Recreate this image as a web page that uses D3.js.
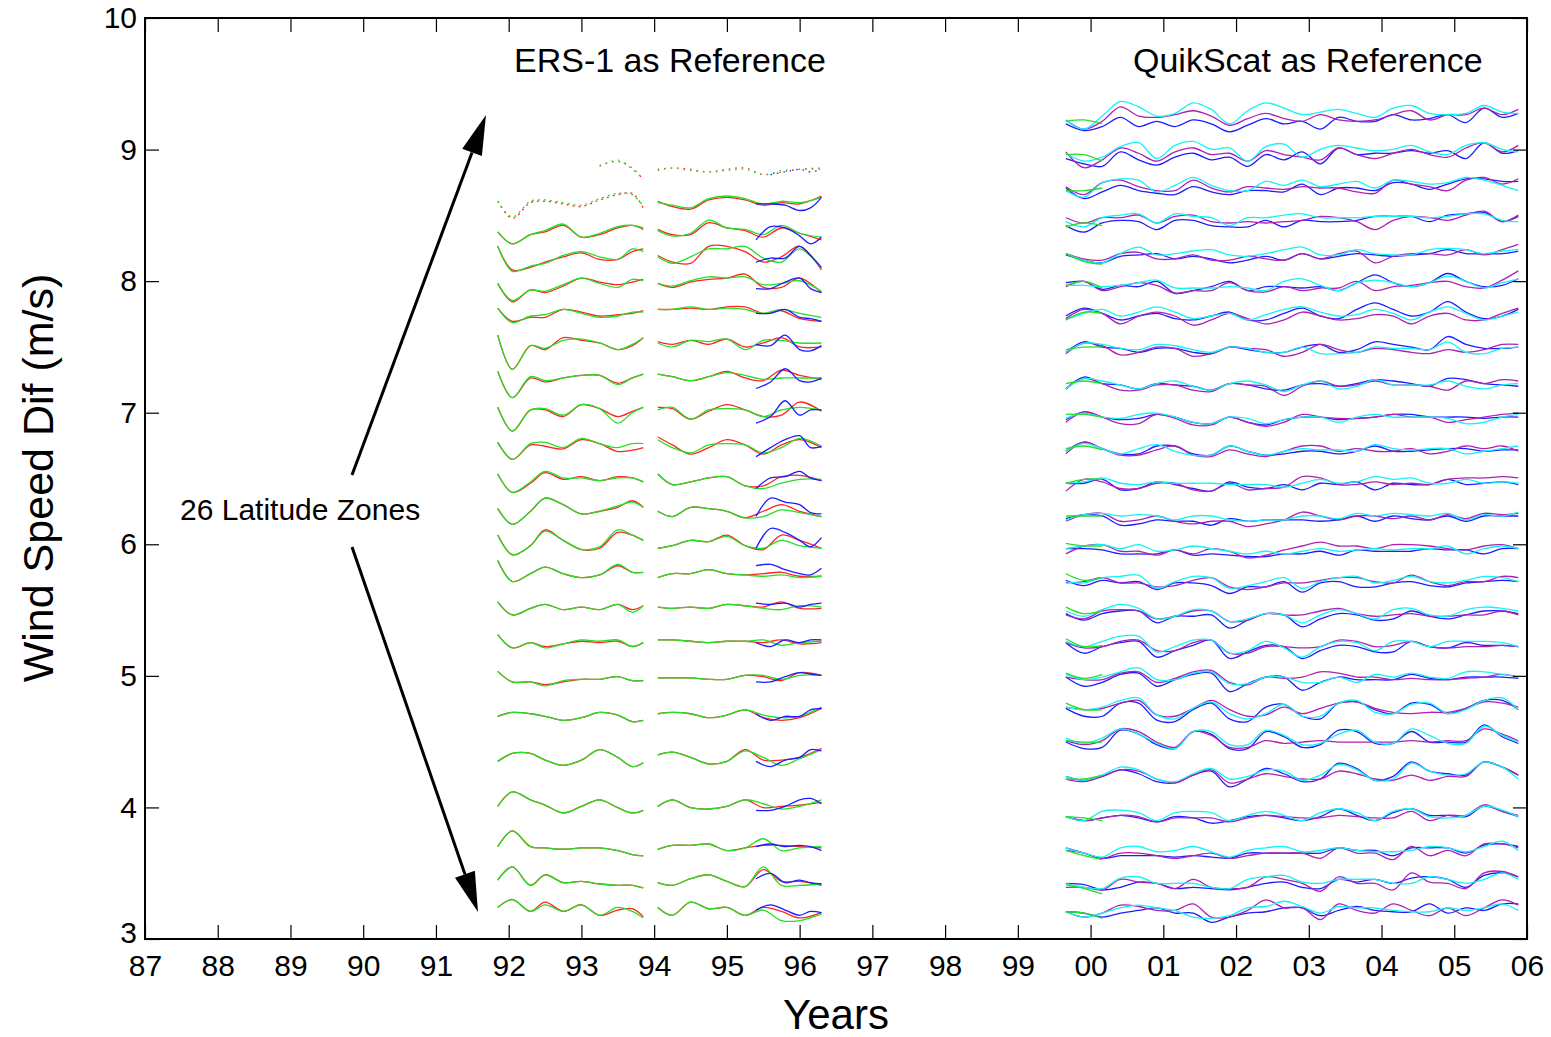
<!DOCTYPE html>
<html><head><meta charset="utf-8">
<script src="https://cdn.jsdelivr.net/npm/d3@7"></script>
<style>
body{margin:0;background:#fff;}
text{font-family:Arial,"Liberation Sans",sans-serif;fill:#000;}
</style>
</head><body>
<svg id="chart" width="1551" height="1037"></svg>
<script>
// ---------------- axis data ----------------
const xTickYears = [87,88,89,90,91,92,93,94,95,96,97,98,99,100,101,102,103,104,105,106];
const xTickLabels = ['87','88','89','90','91','92','93','94','95','96','97','98','99','00','01','02','03','04','05','06'];
const yTicks = [3,4,5,6,7,8,9,10];

// ---------------- ERS-1 as reference (left group) ----------------
// sample times (years since 1900); a data gap lies between 93.85 and 94.05
const ersTimes = [91.85,92.05,92.3,92.5,92.75,93.0,93.25,93.5,93.7,93.85,
                  94.05,94.25,94.5,94.75,95.0,95.25,95.5,95.75,96.0,96.3];
const ersGapAfter = 93.9;
const ersBlueTimes = [95.4,95.6,95.8,96.0,96.15,96.3];
// zone levels (m/s), top to bottom
const ersBase = [8.830,8.617,8.374,8.145,7.933,7.765,7.530,7.264,7.021,6.755,6.504,6.261,
                 6.010,5.767,5.523,5.273,4.984,4.702,4.360,4.018,3.692,3.448,3.220];
// deviations from zone level, in hundredths of m/s
const ersRed = [
 [null,null,null,null,null,null,5,8,3,-6, 2,3,2,0,2,3,-2,0,2,3],
 [-1,-14,-2,-1,-3,-5,0,4,5,-6, -1,-5,-7,0,2,0,-4,-2,-3,3],
 [0,-9,-2,0,5,-4,-2,3,5,2, 2,-2,-2,7,3,1,-4,3,-1,-6],
 [12,-6,-4,0,4,7,2,2,8,10, 5,0,-1,12,12,8,0,4,12,-6],
 [5,-9,0,-2,3,9,6,4,6,8, 5,2,6,8,9,12,2,2,9,-2],
 [3,-7,-4,-4,2,0,-3,-2,-1,1, 2,2,3,2,4,4,-1,1,-5,-7],
 [6,-20,-2,-5,4,2,0,-5,-2,4, 1,-1,2,-1,3,-3,0,4,-3,-3],
 [5,-15,0,-3,0,2,2,-4,0,3, 3,1,-2,1,5,0,-2,6,2,-1],
 [2,-16,0,0,-5,4,1,-5,-1,2, 2,1,-7,-1,4,0,-5,-4,6,-1],
 [2,-11,0,-1,-3,4,1,-5,-4,-2, 6,0,-7,-2,4,0,-7,0,4,-2],
 [3,-11,-4,4,-1,1,-2,1,0,-3, 3,-5,-3,0,1,-6,-6,1,2,-2],
 [1,-11,-1,9,4,-3,-1,2,7,2, -1,-5,2,1,-1,-6,-1,4,-1,-5],
 [6,-9,-2,10,2,-5,-4,8,6,2, -4,-2,2,1,6,-2,-5,6,2,-4],
 [11,-5,1,6,1,-2,0,7,2,2, -2,1,1,4,1,0,1,2,-1,-1],
 [4,-6,-1,2,-2,0,-2,2,-2,1, 0,-1,0,-1,2,1,0,4,-1,-1],
 [4,-6,-2,-5,-3,-1,-2,-1,-5,-2, 0,0,-1,-2,-1,-1,-2,0,-3,-2],
 [5,-3,-3,-5,-3,-1,-1,1,-2,-2, 0,0,0,-1,-1,2,1,-2,4,2],
 [-1,2,1,-1,-4,-2,2,0,-5,-4, 1,2,1,-2,0,4,-2,-4,-2,5],
 [-1,5,5,0,-4,0,8,2,-5,-2, 4,6,2,-3,-1,8,0,0,2,9],
 [-1,10,4,0,-6,-1,4,-2,-6,-4, -1,4,-2,-3,-1,4,-2,-1,0,2],
 [1,13,1,0,-1,0,0,-2,-5,-6, -1,2,2,3,-2,0,2,2,1,0],
 [0,10,-4,4,-2,-1,-3,-4,-4,-6, -2,-4,1,4,-1,-5,8,-1,-1,-4],
 [2,8,-1,6,-1,4,-4,0,1,-5, 2,-4,6,1,2,-4,2,-1,-6,-2]
];
const ersGreen = [
 [null,null,null,null,null,null,4,9,2,-5, 1,3,1,0,1,2,-2,1,2,2],
 [-1,-13,-1,0,-2,-4,1,5,4,-5, -2,-4,-6,1,3,1,-3,-1,-2,2],
 [0,-9,-2,1,6,-4,-1,4,5,3, 1,-3,-1,9,3,2,-2,5,-1,-4],
 [12,-7,-3,-1,5,8,4,2,10,8, 4,-1,4,10,10,12,3,0,10,-5],
 [5,-8,0,-1,4,9,5,2,8,7, 5,3,7,10,9,10,4,5,7,-1],
 [3,-8,-3,-2,2,-1,-4,-3,0,0, 2,2,4,2,3,2,-1,2,-1,-4],
 [6,-20,-2,-4,2,3,0,-5,-1,4, 0,-3,2,1,3,-5,2,2,0,0],
 [5,-15,1,-2,0,2,2,-5,0,3, 3,1,-2,1,4,2,-1,0,0,0],
 [2,-16,0,1,-4,4,1,-10,-2,2, 0,2,-7,0,1,0,-5,0,2,0],
 [2,-11,1,2,-2,5,1,-2,1,1, 4,-2,-6,0,1,0,-6,-2,5,-1],
 [3,-11,-3,5,0,0,-2,0,0,-3, 3,-5,-3,0,1,-6,-8,-4,-1,-1],
 [1,-11,-1,9,4,-3,-1,3,6,2, -1,-5,2,1,-1,-6,-5,0,-2,-5],
 [6,-9,-2,9,2,-5,-3,10,6,2, -4,-2,2,1,5,-2,-4,2,-2,-4],
 [11,-5,1,6,1,-2,0,8,2,2, -2,1,1,4,1,0,-1,0,-2,-1],
 [4,-6,-1,2,-2,0,-2,2,-4,1, 0,-1,0,-1,2,1,-1,-2,1,0],
 [4,-6,-2,-6,-3,0,-1,0,-5,-2, 0,0,-1,-2,-1,-1,0,-4,-2,-1],
 [5,-3,-3,-6,-2,-1,-1,1,-2,-2, 0,0,0,-1,-1,2,2,-1,2,2],
 [-1,2,1,-1,-4,-2,2,0,-5,-4, 1,2,1,-2,0,4,0,-2,-1,6],
 [-1,5,5,0,-4,0,8,2,-5,-2, 4,6,2,-3,-1,7,2,-4,1,8],
 [-1,10,4,0,-6,-1,4,-2,-6,-4, -1,4,-2,-3,-1,4,1,-3,-1,4],
 [1,13,1,0,-1,0,0,-2,-5,-6, -1,2,2,3,-2,0,7,-2,0,1],
 [0,10,-4,4,-2,-1,-3,-4,-4,-6, -2,-4,1,4,-1,-5,10,-4,-4,-3],
 [2,8,-1,4,-1,4,-4,2,-1,-6, 2,-4,6,1,2,-4,0,-8,-8,-3]
];
const ersBlue = [
 [null,-2,0,2,0,2],[-3,-3,-4,-8,-6,2],[-6,4,3,-3,-9,-4],[0,3,3,12,5,-4],[1,1,6,9,1,-2],
 [-1,-1,2,-4,-5,-7],[-1,-2,6,-5,-6,-2],[-8,-3,7,-2,-3,0],[-10,-5,7,-4,0,0],[-9,-2,4,7,-2,-1],
 [-8,0,1,5,0,-2],[-5,9,6,4,-2,-3],[-4,11,8,2,-3,4],[7,8,4,1,0,5],[3,2,3,0,2,3],
 [-2,-5,0,-2,0,0],[-3,-3,1,4,3,2],[1,-4,-1,-1,4,5],[-1,-5,0,2,8,7],[-4,-4,-1,4,5,1],
 [1,3,1,2,1,-2],[1,5,-2,0,-2,-3],[0,4,0,-4,-1,-2]
];

// ---------------- QuikScat as reference (right group) ----------------
const qsTimes = [99.66,99.91,100.16,100.41,100.66,100.91,101.16,101.41,101.66,101.91,102.16,102.41,102.66,
                 102.91,103.16,103.41,103.66,103.91,104.16,104.41,104.66,104.91,105.16,105.41,105.66,105.88];
const qsGreenTimes = [99.66,99.91,100.16];
const qsBase = [9.225,8.972,8.718,8.452,8.199,7.958,7.705,7.489,7.211,6.957,6.717,6.464,6.185,
                5.957,5.716,5.463,5.222,4.981,4.753,4.497,4.246,3.930,3.663,3.423,3.207];
const qsCyan = [
 [0,-7,3,14,10,3,5,13,8,-3,7,13,9,4,6,8,5,2,9,11,5,4,5,11,6,5],
 [0,-6,-3,5,8,-4,6,9,3,4,-6,5,7,-3,3,6,4,2,3,6,1,-1,6,8,3,1],
 [-3,-8,3,6,5,-4,1,7,1,-3,-3,4,1,5,0,2,4,-1,5,4,2,3,7,5,1,-3],
 [0,-4,3,5,6,-1,6,4,3,-3,3,3,5,6,3,3,3,4,4,4,3,4,6,6,1,0],
 [1,-4,-6,1,6,0,1,3,4,0,-1,1,4,6,0,0,4,1,0,0,4,5,4,1,3,4],
 [1,1,0,1,3,5,-1,-1,-1,0,-1,-3,4,6,1,-3,3,5,3,0,3,8,4,-1,3,6],
 [0,5,8,3,6,10,6,1,3,5,0,4,8,10,6,3,4,8,5,0,6,10,5,0,3,6],
 [-3,4,3,0,-1,3,2,-1,-3,1,0,-3,-3,1,-4,-4,-3,1,0,0,-1,5,-3,-4,0,1],
 [-3,5,3,0,-3,1,3,-1,-4,1,3,0,-5,0,3,-3,-1,4,0,0,0,3,-1,-3,0,1],
 [0,4,1,0,3,4,1,-3,-4,1,0,-4,-1,1,1,-3,1,3,1,1,1,0,-4,-3,1,3],
 [-1,5,1,-3,1,4,-1,-4,-4,3,-1,-4,-1,1,0,0,-1,4,1,0,1,1,-3,-1,1,3],
 [0,1,4,0,-1,1,0,0,0,-1,-1,-1,-3,0,3,0,1,5,3,4,0,0,3,0,1,0],
 [0,4,5,3,4,3,0,3,3,0,-1,0,0,3,3,1,5,3,5,4,3,5,0,4,3,6],
 [1,3,4,1,4,-1,0,3,1,-1,-3,-1,-3,-1,1,-1,0,1,0,1,1,3,-3,1,3,1],
 [0,-1,3,4,5,-5,0,4,3,-5,-3,0,3,-5,0,3,4,-1,1,4,0,-1,1,4,3,0],
 [3,-1,4,8,5,-3,-1,4,3,-5,-3,1,0,-6,0,4,1,-3,4,5,0,-1,4,6,5,3],
 [4,0,4,8,8,-4,0,5,5,-5,-3,4,-1,-8,0,4,3,-3,4,4,0,4,4,4,3,0],
 [3,-1,1,5,8,-1,-1,4,5,-4,-4,1,1,-3,-3,1,-3,3,1,4,1,0,5,5,3,1],
 [1,-1,1,6,8,-5,-8,0,5,-4,-8,-4,3,-6,-6,4,6,-3,-4,3,4,-4,-1,6,8,-1],
 [3,-1,3,10,6,-1,-5,8,8,-2,-2,9,5,-2,-1,6,9,0,-1,10,5,-1,-1,12,5,0],
 [-1,-4,0,6,4,-3,-5,1,5,-3,-1,4,3,-4,0,8,4,-4,-3,9,3,0,1,10,6,-3],
 [0,-3,4,5,3,-3,3,4,3,-3,1,4,1,-3,3,6,3,-3,4,6,0,-1,1,8,5,0],
 [3,-1,-4,3,4,0,1,4,0,-4,1,3,4,0,1,3,1,0,0,1,4,3,0,4,8,1],
 [0,-3,-4,4,5,0,0,0,-3,-4,3,5,6,1,0,3,3,3,0,0,5,3,0,3,8,3],
 [0,-4,-1,3,5,3,1,-4,-5,-3,3,4,8,4,-1,4,3,3,1,0,0,3,1,3,6,1]
];
const qsMagenta = [
 [0,-7,-1,10,3,2,4,7,3,-4,1,5,1,-1,4,0,-1,0,4,7,0,4,4,9,4,8],
 [1,-11,-5,4,0,-6,1,4,-1,0,-6,2,-1,-3,-5,4,-1,-4,0,3,-1,-3,4,8,1,6],
 [0,-6,3,5,0,-3,-3,5,-1,-4,0,-1,-2,0,-1,-1,-4,-5,5,2,0,-3,5,7,2,6],
 [3,-1,3,3,5,-1,4,5,0,-1,0,-1,0,1,4,3,0,-6,1,4,3,1,5,8,0,5],
 [1,-3,-4,1,2,-3,-3,0,-4,-4,-1,-3,-4,1,-3,1,3,-6,-1,1,1,0,4,0,4,8],
 [0,4,-3,0,3,1,-5,-3,-3,3,-3,-4,0,-3,-1,-1,4,-3,0,1,3,4,0,-1,5,12],
 [1,8,5,-3,3,6,3,-4,0,5,1,-3,0,6,3,0,1,4,3,-3,3,5,0,0,5,9],
 [-4,4,2,-5,-3,1,0,-6,-4,1,0,-1,-6,-3,3,-1,-3,0,-1,-3,-4,-1,-3,-1,3,3],
 [-3,5,1,-4,-4,0,0,-4,-5,1,0,-1,-8,-1,3,-1,0,3,0,0,-1,-4,3,1,4,3],
 [-3,5,1,-4,-4,3,0,-5,-5,1,-3,-6,-3,3,1,0,0,1,3,1,1,-3,-1,1,3,4],
 [-3,6,1,-4,-4,0,3,-4,-5,0,-3,-5,-1,3,3,-1,1,-1,-1,1,-3,-1,3,1,3,-1],
 [-6,3,1,-4,-4,0,0,-5,-6,0,-5,-4,-3,5,4,-1,-1,1,-1,0,-1,3,4,4,5,4],
 [-1,4,5,-1,0,3,-1,-3,-1,-1,-5,-3,0,6,3,0,3,3,1,3,0,4,1,5,4,5],
 [-3,3,4,-1,-1,-4,0,-3,1,-1,-6,-4,0,3,6,3,3,1,4,4,3,1,0,3,4,1],
 [-1,0,3,-1,-1,-4,-3,1,3,-4,-6,-4,-1,-1,1,3,3,0,-1,5,0,-3,0,0,4,3],
 [0,-3,3,4,3,-3,-1,3,3,-5,-4,1,0,0,3,5,1,-1,0,1,-1,-1,0,0,3,0],
 [3,-1,0,4,5,-3,-3,3,5,-5,-5,0,0,-1,0,5,4,0,1,4,0,-1,0,0,1,0],
 [1,-1,-1,4,5,-3,0,5,6,-3,-5,1,0,1,5,4,1,1,-1,0,-1,-1,0,1,3,1],
 [1,-1,0,4,6,-5,-6,0,6,-1,-6,-5,1,-4,0,4,5,0,-3,-4,-3,-3,0,5,4,1],
 [1,-2,1,10,8,0,-4,8,5,-4,-4,1,-1,0,1,0,0,0,0,1,0,1,1,10,6,1],
 [-3,-5,-1,4,3,-3,-6,0,4,-6,-3,1,-1,-3,-3,3,1,-3,-4,0,-4,-1,-1,10,6,0],
 [0,-3,-1,1,0,-4,-1,-1,-1,-4,-1,1,0,-1,-1,1,0,-1,-1,4,-3,1,1,9,4,1],
 [1,-1,-5,-1,-1,-3,-5,-3,-1,-5,-3,-1,-1,-1,-5,3,-1,-1,-6,4,-3,1,-3,6,6,3],
 [-3,-3,-5,3,1,0,-4,3,-3,-4,-3,5,3,0,-6,5,0,0,-5,8,1,0,-4,8,9,5],
 [0,-4,-1,5,4,1,1,6,-4,-4,1,9,3,3,-6,6,1,-1,6,1,-3,3,-3,3,9,5]
];
const qsBlue = [
 [-3,-8,-5,2,-5,-1,-5,0,-3,-9,-4,1,-3,-1,-7,2,-1,-1,4,0,1,4,-2,9,2,5],
 [-4,-8,-10,1,-5,-9,-3,0,-5,-3,-10,-1,-5,1,-8,4,-1,0,0,2,0,2,-4,8,0,2],
 [-1,-9,-4,1,-3,-5,-6,0,-4,-6,-3,-3,-4,2,-6,-1,-1,-3,3,2,-2,2,6,6,4,4],
 [-3,-8,-1,1,0,-6,1,1,-3,-4,-4,1,-4,1,0,0,1,4,4,4,0,5,6,7,0,4],
 [0,-4,-6,-1,0,1,-3,-1,-3,-6,-4,-1,-4,1,-3,-1,1,0,-1,0,1,4,1,1,1,3],
 [3,4,-2,1,0,4,-5,-3,0,4,-3,0,0,-1,0,-3,3,9,3,0,3,10,4,0,1,6],
 [3,9,5,0,3,5,1,0,3,6,0,0,5,9,3,1,8,13,8,3,6,14,6,1,3,8],
 [-3,5,1,0,-3,0,0,-3,-4,1,-1,-3,-3,1,3,-3,-1,5,3,1,-1,9,3,0,0,1],
 [-3,6,1,0,-3,1,0,-1,-4,1,0,-3,-4,0,1,-1,1,4,3,1,-1,5,4,1,0,-1],
 [-1,5,1,-1,0,3,1,-3,-4,1,-3,-5,-1,1,1,-1,0,1,3,3,1,1,1,0,1,1],
 [-1,6,1,-3,-3,3,3,-3,-4,3,-1,-4,-3,-1,-1,-3,-1,3,-1,-1,0,1,1,-1,0,0],
 [0,0,3,-5,-4,1,-1,-4,-6,1,-3,-4,-1,-5,0,-1,1,-5,0,-1,-1,3,-1,0,1,-1],
 [1,4,3,-4,-3,0,-1,-1,-4,1,-1,0,0,0,-1,0,3,-1,3,1,0,3,-1,3,3,3],
 [1,1,0,-3,-3,-3,0,-4,-3,-4,-5,-5,-3,-3,-1,-4,0,-1,-1,-1,1,0,0,-3,1,1],
 [1,-3,1,-1,0,-6,-1,-1,-3,-9,-4,-4,0,-8,-1,0,-4,-4,-1,0,-3,-4,-1,0,1,0],
 [1,-4,1,3,3,-6,-1,-1,0,-10,-4,1,0,-9,-3,1,0,-4,-3,3,-1,-3,0,3,3,1],
 [3,-5,0,3,4,-8,-3,1,5,-9,-4,1,0,-9,-3,1,0,-4,-4,4,0,-1,3,1,1,0],
 [1,-6,-3,3,4,-6,-1,3,4,-10,-4,1,1,-9,-3,1,-1,-1,-1,3,0,-1,1,1,1,0],
 [0,-6,-6,4,4,-9,-10,-1,4,-8,-10,1,3,-6,-8,4,5,-1,-4,4,3,-4,0,6,6,-1],
 [0,-5,-4,9,6,-2,-5,8,6,-5,-5,8,4,-4,-2,9,8,-1,-1,8,0,0,0,13,4,-1],
 [-1,-4,-1,4,1,-5,-6,0,3,-9,-3,5,1,-5,-3,9,5,-4,-1,10,3,1,0,10,6,0],
 [0,-3,-1,1,-1,-4,0,-1,-5,-3,0,1,-1,-3,0,6,1,-3,3,6,1,1,0,8,4,0],
 [3,-1,-5,-3,-3,-3,-4,-3,-4,-5,-1,-1,-1,-1,-1,3,1,1,-3,3,3,3,-1,5,6,4],
 [0,-1,-5,-3,1,0,-4,-3,-4,-5,-3,0,1,-3,-4,3,1,3,0,4,5,3,-3,6,8,5],
 [0,-1,-4,-1,1,3,-1,-1,-8,-4,-1,0,3,3,-3,1,4,1,0,0,6,-1,3,1,6,6]
];
const qsGreen = [
 [-1,0,-3],[-1,-1,-6],[-3,-3,-1],[-4,-1,-3],[1,-5,-7],[1,4,-1],[0,6,5],[-1,1,1],[1,3,1],
 [3,3,1],[1,3,0],[0,3,3],[3,3,3],[5,3,3],[6,1,3],[6,1,3],[6,0,1],[4,0,3],[4,-1,-1],
 [1,0,0],[-3,-3,0],[0,-1,-3],[1,-3,-6],[-1,-4,-8],[0,-1,-5]
];

// ---------------- annotations ----------------
const titleLeft = 'ERS-1 as Reference';
const titleRight = 'QuikScat as Reference';
const zonesLabel = '26 Latitude Zones';
const arrowUp = {from:[89.846,6.527], to:[91.688,9.263]};
const arrowDown = {from:[89.846,5.979], to:[91.578,3.205]};

// ---------------- drawing ----------------
const svg = d3.select('#chart');
const x = d3.scaleLinear().domain([87,106]).range([145,1527]);
const y = d3.scaleLinear().domain([3,10]).range([939,18]);

const lineGen = d3.line()
  .defined(d => d.v != null)
  .x(d => x(d.t)).y(d => y(d.v))
  .curve(d3.curveCatmullRom.alpha(0.5));

function pts(times, base, devs){
  return times.map((t,i) => ({t, v: (devs[i] == null) ? null : base + devs[i]/100}));
}
const plot = svg.append('g');
function draw(points, color, dash){
  plot.append('path').attr('d', lineGen(points)).attr('fill','none')
    .attr('stroke', color).attr('stroke-width', 1.3)
    .attr('stroke-linejoin','round')
    .attr('stroke-dasharray', dash || null);
}

const C_RED = '#ff2424', C_GREEN = '#22e022', C_BLUE = '#1c1cff',
      C_CYAN = '#12f4f4', C_MAG = '#b020b0';

// left group
ersBase.forEach((b, z) => {
  [[ersRed, C_RED],[ersGreen, C_GREEN]].forEach(([arr, col]) => {
    const p = pts(ersTimes, b, arr[z]);
    const a = p.filter(d => d.t < ersGapAfter), c = p.filter(d => d.t > ersGapAfter);
    draw(a, col, z === 0 ? '1.5 5' : (z === 1 ? '2 4' : null));
    draw(c, col, z === 0 ? '1.5 5' : null);
  });
  draw(pts(ersBlueTimes, b, ersBlue[z]), C_BLUE, z === 0 ? '1.5 5' : null);
});

// right group
qsBase.forEach((b, z) => {
  draw(pts(qsTimes, b, qsBlue[z]), C_BLUE);
  draw(pts(qsTimes, b, qsMagenta[z]), C_MAG);
  draw(pts(qsTimes, b, qsCyan[z]), C_CYAN);
  draw(pts(qsGreenTimes, b, qsGreen[z]), C_GREEN);
});

// axes (ticks point inward)
const FS = 30;
function styleAxis(g){
  g.select('.domain').remove();
  g.selectAll('.tick line').attr('stroke','#000').attr('stroke-width',1.2);
  g.selectAll('.tick text').attr('font-size', FS).attr('fill','#000')
   .attr('font-family','Arial, "Liberation Sans", sans-serif');
}
svg.append('g').attr('transform','translate(0,939)')
  .call(d3.axisBottom(x).tickValues(xTickYears).tickFormat((d,i) => xTickLabels[i]).tickSizeInner(-14).tickSizeOuter(0).tickPadding(16))
  .call(styleAxis);
svg.append('g').attr('transform','translate(0,18)')
  .call(d3.axisTop(x).tickValues(xTickYears).tickFormat('').tickSizeInner(-14).tickSizeOuter(0))
  .call(styleAxis);
const yAxisG = svg.append('g').attr('transform','translate(145,0)')
  .call(d3.axisLeft(y).tickValues(yTicks).tickFormat(d3.format('d')).tickSizeInner(-14).tickSizeOuter(0).tickPadding(8))
  .call(styleAxis);
// the lowest label sits just above the corner, as in the original
yAxisG.selectAll('.tick text').filter(d => d === 3).attr('dy','0.1em');
svg.append('g').attr('transform','translate(1527,0)')
  .call(d3.axisRight(y).tickValues(yTicks).tickFormat('').tickSizeInner(-14).tickSizeOuter(0))
  .call(styleAxis);

// frame
svg.append('rect').attr('x', x(87)).attr('y', y(10))
  .attr('width', x(106) - x(87)).attr('height', y(3) - y(10))
  .attr('fill','none').attr('stroke','#000').attr('stroke-width',2);

// axis titles
svg.append('text').attr('x', 836).attr('y', 1029).attr('text-anchor','middle')
  .attr('font-size', 42).text('Years');
svg.append('text').attr('transform','translate(53,478) rotate(-90)').attr('text-anchor','middle')
  .attr('font-size', 43).text('Wind Speed Dif (m/s)');

// panel titles
svg.append('text').attr('x', 514).attr('y', 72).attr('font-size', 34).text(titleLeft);
svg.append('text').attr('x', 1133).attr('y', 72).attr('font-size', 34).text(titleRight);
svg.append('text').attr('x', 180).attr('y', 520).attr('font-size', 30).text(zonesLabel);

// arrows
function arrow(a){
  const x0 = x(a.from[0]), y0 = y(a.from[1]), x1 = x(a.to[0]), y1 = y(a.to[1]);
  const dx = x1 - x0, dy = y1 - y0, L = Math.hypot(dx, dy), ux = dx/L, uy = dy/L;
  const hl = 40, hw = 10.5;
  const bx = x1 - ux*hl, by = y1 - uy*hl;
  svg.append('line').attr('x1', x0).attr('y1', y0).attr('x2', bx).attr('y2', by)
    .attr('stroke','#000').attr('stroke-width', 3);
  svg.append('path').attr('d', `M${x1},${y1}L${bx - uy*hw},${by + ux*hw}L${bx + uy*hw},${by - ux*hw}Z`)
    .attr('fill','#000');
}
arrow(arrowUp);
arrow(arrowDown);
</script>
</body></html>
